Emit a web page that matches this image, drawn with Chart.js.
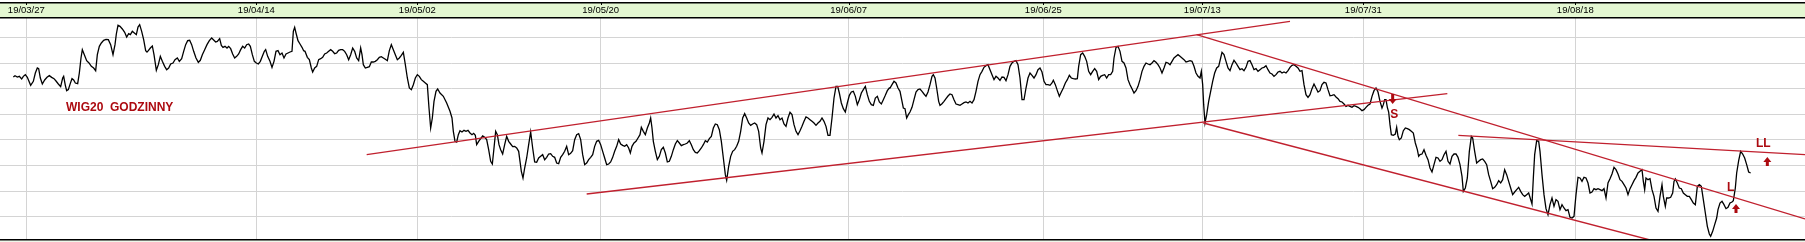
<!DOCTYPE html>
<html>
<head>
<meta charset="utf-8">
<script src="https://cdn.jsdelivr.net/npm/chart.js@4/dist/chart.umd.min.js"></script>
<style>
  html, body { margin: 0; padding: 0; background: #fff; }
</style>
</head>
<body>
<canvas id="myChart" width="1805" height="242"></canvas>
<script>
// time step of each reading (1 step = 1/3 px of the original picture)
const step = [
  40,45,52,58,65,70,76,82,92,100,106,112,116,121,127,134,141,148,155,162,168,175,182,188,191,196,200,205,211,216,
  221,226,233,238,243,247,253,260,267,274,281,287,292,298,304,311,318,325,332,339,345,349,354,360,367,374,380,386,391,397,
  403,409,414,419,425,431,437,441,445,451,457,462,469,475,481,487,494,500,506,512,519,525,532,538,545,551,557,563,569,575,
  581,588,595,601,607,614,621,628,635,641,647,652,659,664,669,675,681,686,692,698,704,710,716,722,728,734,740,746,751,757,
  763,769,775,781,787,793,797,803,810,816,822,828,834,840,846,852,858,864,870,876,880,884,888,894,900,906,911,915,922,928,
  934,938,944,950,956,962,968,974,980,986,992,998,1004,1010,1016,1022,1028,1034,1040,1046,1052,1058,1064,1070,1076,1082,1086,1090,1096,1102,
  1108,1114,1120,1126,1132,1138,1144,1150,1156,1162,1168,1174,1180,1186,1192,1198,1204,1210,1216,1222,1228,1234,1240,1246,1252,1258,1264,1270,1276,1282,
  1287,1292,1297,1302,1308,1313,
  1320,1330,1340,1350,1356,1360,1365,1370,1375,1380,1386,1392,1398,1404,1410,1416,1421,1426,1430,1436,
  1442,1448,1454,1460,1466,1472,1477,1482,1487,1492,1497,1502,1508,1514,1520,1526,1532,1538,1544,1550,
  1556,1560,1564,1569,1574,1580,1586,1592,1598,1604,1610,1616,1622,1628,1634,1640,1646,1652,1658,1664,
  1670,1676,1682,1688,1694,1700,1706,1712,1718,1724,1730,1736,1742,1748,1754,1760,1766,1772,1778,1784,
  1790,1796,1802,1808,1814,1820,1826,1832,1838,1844,1850,1856,1862,1868,1874,1880,1886,1891,1896,1902,
  1908,1914,1920,1924,1930,1936,1942,1948,1952,1956,1960,1966,1972,1978,1984,1990,1996,2002,2008,2014,
  2020,2026,2032,2038,2044,2050,2056,2062,2068,2074,2080,2086,2092,2098,2104,2110,2116,2122,2128,2134,
  2140,2146,2152,2158,2164,2170,2176,2180,2186,2192,2198,2204,2210,2216,2222,2228,2234,2240,2246,2252,
  2258,2264,2270,2276,2282,2286,2292,2298,2304,2310,2316,2322,2328,2334,2340,2346,2352,2358,2364,2370,
  2376,2382,2388,2394,2400,2406,2412,2418,2424,2430,2436,2442,2448,2454,2460,2466,2472,2478,2484,2490,
  2496,2502,2508,2513,2518,2524,2530,2536,2542,2548,2554,2560,2566,2572,2578,2584,2590,2596,2602,2608,
  2614,2620,2626,2632,2638,2644,2650,2656,2662,2668,
  2670,2676,2682,2688,2694,2700,2705,2710,2715,2720,2725,2730,2736,2742,2748,2754,2760,2766,2772,2778,
  2784,2790,2796,2800,2805,2810,2816,2820,2826,2832,2838,2844,2850,2856,2862,2868,2874,2880,2886,2892,
  2898,2904,2910,2916,2922,2928,2934,2940,2946,2952,2958,2964,2970,2976,2982,2988,2994,3000,3006,3012,
  3018,3024,3030,3036,3042,3048,3054,3060,3066,3072,3078,3084,3090,3096,3102,3108,3114,3120,3126,3132,
  3138,3144,3150,3156,3160,3166,3172,3178,3184,3190,3196,3202,3208,3214,3220,3226,3232,3236,3242,3248,
  3254,3260,3266,3272,3278,3284,3290,3296,3302,3308,3314,3320,3326,3332,3338,3342,3348,3354,3360,3366,
  3372,3378,3384,3390,3396,3402,3408,3414,3420,3426,3432,3438,3444,3450,3456,3462,3468,3474,3480,3486,
  3492,3498,3504,3510,3516,3522,3528,3534,3540,3546,3552,3558,3564,3570,3576,3582,3588,3594,3600,3604,
  3608,3611,3615,3620,3626,3632,3638,3644,3650,3656,3662,3666,3672,3678,3684,3690,3696,3702,3708,3714,
  3720,3726,3732,3738,3744,3750,3756,3762,3768,3774,3780,3786,3792,3798,3804,3810,3816,3822,3828,3834,
  3840,3846,3852,3858,3864,3870,3876,3882,3888,3894,3900,3906,3912,3918,3924,3930,3936,3942,3948,3954,
  3960,3966,3972,3978,3984,3990,3996,4002,4008,4014,
  4020,4026,4032,4038,4044,4050,4056,4062,4068,4074,4080,4086,4092,4098,4104,4110,4116,4122,4128,4134,
  4140,4146,4150,4154,4158,4162,4166,4170,4174,4180,4186,4190,4194,4198,4204,4210,4216,4222,4228,4234,
  4240,4246,4252,4256,4260,4266,4272,4278,4284,4290,4296,4302,4308,4314,4320,4326,4332,4338,4344,4350,
  4356,4362,4368,4374,4380,4386,4390,4396,4402,4408,4414,4418,4424,4430,4436,4442,4448,4454,4460,4466,
  4472,4478,4484,4490,4496,4502,4508,4514,4520,4526,4532,4538,4544,4550,4556,4562,4568,4574,4580,4586,
  4592,4596,4600,4604,4610,4616,4620,4626,4632,4638,4644,4650,4656,4662,4668,4674,4680,4686,4692,4698,
  4704,4710,4716,4722,4728,4734,4740,4746,4752,4758,4764,4770,4776,4782,4788,4794,4800,4806,4812,4818,
  4824,4830,4836,4842,4848,4854,4860,4866,4872,4878,4884,4890,4896,4902,4908,4914,4920,4926,4930,4934,
  4938,4944,4950,4956,4962,4968,4974,4980,4986,4990,4996,5000,5006,5012,5018,5022,5026,5032,5038,5044,
  5050,5056,5062,5068,5074,5080,5086,5092,5098,5104,5110,5116,5122,5128,5132,5138,5144,5150,5154,5160,
  5166,5172,5178,5184,5190,5196,5200,5206,5210,5216,5222,5228,5234,5240,5246,5252
];

// WIG20 hourly level
const wig20 = [
  2384.5,2386.5,2384.5,2385.5,2381.5,2385.5,2388,2384,2372,2378,2390.5,2398,2397,2383,2374,2380,2384,2386.5,2384,2382,
  2378.5,2374,2370,2383,2385.5,2372,2364,2365.5,2375,2382,2380,2375.5,2374.5,2390.5,2413,2425.5,2418,2409,2405.5,2400.5,
  2398,2394,2418,2430.5,2435.5,2439.5,2441,2440.5,2433,2418,2433,2449,2462,2460.5,2456.5,2451.5,2444.5,2449.5,2448,2453,
  2450.5,2448,2459.5,2463,2453,2440.5,2424,2422,2424,2428,2431,2418,2394.5,2403,2415.5,2408,2400.5,2395.5,2398,2404,
  2405.5,2410.5,2413,2408,2412,2423,2433,2439,2439.5,2433,2423,2413,2406.5,2409.5,2418,2425.5,2433,2439,2443,2440,
  2437,2438,2442,2432,2429,2430.5,2428,2430.5,2427,2419,2413,2415.5,2419,2425.5,2430.5,2428,2433,2434,2430.5,2418,
  2408,2405.5,2404,2408,2415.5,2423,2425.5,2415.5,2408,2399,2408,2423,2424,2418,2420.5,2413,2419,2420.5,2422,2423,
  2453,2459,2450.5,2439,2434,2429,2424,2423,2414,2410.5,2398,2392,2398,2400.5,2410.5,2412,2414,2419,2420.5,2423,
  2425.5,2423,2419.5,2420.5,2424.5,2425.5,2425.5,2423,2418,2410.5,2418,2428,2423,2413,2409,2428,2418,2403,2398,2399,
  2400,2407,2407,2408,2410.5,2414,2415,2413,2411,2409,2424,2433,2425.5,2418,2410.5,2413,2417,2421.5,2403,2383,
  2368,2365.5,2373,2383,2388,2385.5,2380.5,2378,2375.5,2373,2338,2308,2323,2348,2363,2366.5,
  2360.5,2355.5,2345.5,2333,2323,2303,2288,2287,2298,2304,2302,2304.5,2303,2304.5,2300.5,2298,2300,2297,2283,2288,
  2292,2296,2294,2290.5,2275.5,2258,2254,2278,2303,2298,2283,2275.5,2269,2283,2295.5,2288,2284,2280,2280.5,2278,
  2273,2258,2243,2233,2248,2263,2283,2302,2278,2257,2256.5,2263,2265.5,2268,2260.5,2264,2269,2269.5,2265.5,2264,
  2255.5,2254.5,2264,2268,2273,2280.5,2268,2270,2274,2290.5,2298,2299.5,2290.5,2268,2253,2255.5,2260.5,2264,2268,2280.5,
  2288,2289.5,2283,2273,2263,2253,2254,2257,2264,2273,2280.5,2290.5,2284,2282,2280.5,2283,2278,2270.5,2280.5,2285.5,
  2288,2293,2298,2309,2303,2298,2308,2315.5,2323,2308,2288,2273,2260.5,2265.5,2275.5,2279,2270.5,2257,2258,2265.5,
  2275.5,2284,2289,2285.5,2281.5,2283,2284,2285.5,2289,2283,2275.5,2271.5,2270.5,2274,2278,2283,2289,2287,2292,2295.5,
  2308,2314,2313,2305.5,2288,2263,2238,2229.5,2250.5,2265.5,2273,2275.5,2280.5,2288,2303,2323,2329.5,2323,2315.5,2312,
  2314,2315.5,2313,2303,2278,2270.5,2288,2313,2323,2320.5,2324,2329,2323,2326.5,2320.5,2323,2314,2310.5,2323,2331.5,
  2328,2313,2303,2298,2304,2310.5,2318,2324.5,2323,2320.5,2318,2315.5,2312,2315.5,2318,2323,2318,2310.5,2297,2297,
  2323,2353,2370.5,2370.5,2360.5,2345.5,2337,2332,2345.5,2357,2362,2363,2355.5,2343,2350.5,2360.5,2365.5,2370.5,2358,2348,
  2343,2342,2353,2355.5,2347,2344,2350.5,2357,2364,2368,
  2368,2373,2378,2375.5,2368,2363,2350.5,2338,2337,2323,2328,2332,2339,2350.5,2362,2365.5,2366.5,2363,2359,2355.5,
  2362,2373,2385.5,2388,2383,2368,2348,2342,2344.5,2348,2352,2356,2359,2358,2350.5,2344,2343,2342,2344,2346,
  2347,2345.5,2348,2345.5,2350.5,2363,2378,2388,2393,2399,2401.5,2403,2395.5,2388,2380.5,2385.5,2383,2379.5,2384.5,2384,
  2379,2388,2400.5,2405.5,2408,2409,2403,2383,2350.5,2350.5,2368,2383,2390.5,2387,2383,2388,2395.5,2398,2392,2378,
  2373,2373,2372,2375.5,2379.5,2373,2364,2355.5,2362,2368,2375.5,2380.5,2387,2383,2382,2381.5,2382,2400.5,2418,2420.5,
  2415.5,2408,2393,2388,2393,2397,2393,2380.5,2385.5,2387,2388,2383,2388,2388,2393,2413,2429,2430.5,2423,2408,
  2405.5,2398,2380.5,2373,2367,2360.5,2364,2370.5,2380.5,2393,2400.5,2405.5,2404,2403,2405.5,2409,2406.5,2403,2398,2390.5,
  2398,2406.5,2405.5,2403,2408,2413,2415.5,2418,2415.5,2413,2410.5,2407,2408,2409,2408,2400.5,2390.5,2385.5,2383,2393,
  2373,2343,2315.5,2328,2348,2363,2378,2390.5,2398,2400.5,2413,2421.5,2418,2408,2398,2394,2403,2409.5,2405.5,2400.5,
  2395.5,2397,2394,2399,2408,2409,2403,2395.5,2397,2393,2395.5,2398,2399,2401.5,2395.5,2390.5,2389,2385.5,2388,2392,
  2393,2390.5,2392,2390.5,2394,2399,2402,2403,2400.5,2398,2393,2394,2373,2358,2354,2358,2367,2374,2368,2362,
  2364,2373,2376.5,2375.5,2365.5,2356.5,2357,2358,2354.5,2352,
  2348,2347,2344,2340.5,2342,2340.5,2339,2341.5,2340.5,2339,2337,2334,2335.5,2339,2342,2344,2355.5,2364,2368,2362,
  2348,2338,2343,2350.5,2350.5,2339,2332,2313,2298,2297,2299,2309,2295.5,2290.5,2293,2304,2308,2307,2305.5,2303,
  2300.5,2285.5,2275.5,2265.5,2268,2269,2275.5,2267,2260.5,2248,2242,2253,2264,2263,2258,2260.5,2268,2273,2258,2254,
  2265.5,2269,2269,2264,2253,2235.5,2213,2218,2233,2273,2295.5,2293,2273,2255.5,2258,2260.5,2261.5,2258,2253,2238,
  2228,2217,2219,2223,2229,2225.5,2230.5,2245.5,2238,2228,2218,2208,2212,2215.5,2219,2213,2208,2205.5,2208,2210.5,
  2200.5,2194,2233,2268,2289,2288,2273,2238,2208,2187,2178,2193,2203,2190.5,2200.5,2198,2185.5,2193,2188,2184,
  2185.5,2174,2173,2175.5,2208,2234,2233,2228,2234,2233,2225.5,2210.5,2212,2217,2215.5,2217,2215.5,2214,2217,2203,
  2225.5,2232,2239,2249,2245.5,2239,2230.5,2228,2223,2218,2208,2217,2223,2229,2234,2240.5,2243,2245.5,2228,2215.5,
  2233,2230.5,2232,2215.5,2205.5,2188,2183,2205.5,2223,2205.5,2190.5,2203,2203,2204,2210.5,2228,2231.5,2225.5,2218,2217,
  2210.5,2208,2205.5,2205.5,2200.5,2195.5,2193,2220.5,2223,2220.5,2200.5,2180.5,2160.5,2149,2145.5,2153,2163,2173,2185.5,2195.5,
  2198,2193,2187,2189,2195.5,2197,2199,2218,2240.5,2259,2273,2269,2263,2253,2242,2240.5
];

// date labels on the top band and the step they sit at
const dateLabels = ["19/03/27", "19/04/14", "19/05/02", "19/05/20", "19/06/07", "19/06/25", "19/07/13", "19/07/31", "19/08/18"];
const dateTicks = [79, 769, 1252, 1802, 2546, 3130, 3607, 4090, 4726];

// horizontal grid levels
const levels = [2444.5, 2405.5, 2367.5, 2329, 2291, 2252.5, 2213.5, 2175.5];

// trend lines drawn by hand on the chart
const channelTop = [{ x: 1100, y: 2268 }, { x: 3870, y: 2468 }];
const channelBottom = [{ x: 1760, y: 2209 }, { x: 4342, y: 2359.5 }];
const downTop = [{ x: 3590, y: 2448 }, { x: 5415, y: 2171.5 }];
const downBottom = [{ x: 3610, y: 2315.5 }, { x: 4950, y: 2140 }];
const resistance = [{ x: 4375, y: 2297 }, { x: 5415, y: 2268 }];

// signal marks: text, and arrows (tail level -> head level)
const signalText = ["S", "L", "LL"];
const signalStep = [4183, 5192, 5290];
const signalLevel = [2328, 2219, 2284];
const arrowStep = [4178, 5208, 5302];
const arrowFrom = [2359, 2180.5, 2251];
const arrowTo = [2344, 2194, 2264.5];

const title = "WIG20  GODZINNY";
const titleStep = 198;
const titleLevel = 2338;

const red = "#c0202e";
const darkRed = "#ac0a10";

const decor = {
  id: "decor",
  beforeDraw(chart) {
    const ctx = chart.ctx;
    ctx.save();
    ctx.fillStyle = "#ffffff";
    ctx.fillRect(0, 0, chart.width, chart.height);
    ctx.fillStyle = "#e4f7d2";
    ctx.fillRect(0, 3, chart.width, 15);
    ctx.fillStyle = "#eef7ea";
    ctx.fillRect(0, 240, chart.width, 2);
    ctx.restore();
  },
  afterDatasetsDraw(chart) {
    const ctx = chart.ctx;
    const x = chart.scales.x;
    const y = chart.scales.y;
    ctx.save();
    ctx.fillStyle = darkRed;
    ctx.font = "bold 12px 'Liberation Sans', Arial, sans-serif";
    ctx.textBaseline = "middle";
    ctx.textAlign = "left";
    ctx.fillText(title, x.getPixelForValue(titleStep), y.getPixelForValue(titleLevel));
    ctx.textAlign = "center";
    signalText.forEach((t, i) => {
      ctx.fillText(t, x.getPixelForValue(signalStep[i]), y.getPixelForValue(signalLevel[i]));
    });
    // block arrows
    arrowStep.forEach((s, i) => {
      const cx = x.getPixelForValue(s);
      const y0 = y.getPixelForValue(arrowFrom[i]);
      const y1 = y.getPixelForValue(arrowTo[i]);
      const dir = y1 > y0 ? 1 : -1;
      const headLen = 5;
      const yb = y1 - dir * headLen;
      ctx.beginPath();
      ctx.moveTo(cx - 1.5, y0);
      ctx.lineTo(cx + 1.5, y0);
      ctx.lineTo(cx + 1.5, yb);
      ctx.lineTo(cx + 4, yb);
      ctx.lineTo(cx, y1);
      ctx.lineTo(cx - 4, yb);
      ctx.lineTo(cx - 1.5, yb);
      ctx.closePath();
      ctx.fill();
    });
    ctx.restore();
  },
  afterDraw(chart) {
    const ctx = chart.ctx;
    const x = chart.scales.x;
    ctx.save();
    ctx.fillStyle = "#000";
    ctx.fillRect(0, 2, chart.width, 1.5);
    ctx.fillRect(0, 17, chart.width, 1.5);
    ctx.fillRect(0, 239, chart.width, 1.5);
    dateTicks.forEach(t => {
      ctx.fillRect(Math.round(x.getPixelForValue(t)), 3, 1, 2);
    });
    ctx.restore();
  }
};

const lineStyle = { borderColor: red, borderWidth: 1.3, pointRadius: 0, tension: 0, order: 0 };

const config = {
  type: "line",
  data: {
    datasets: [
      {
        label: "WIG20",
        data: step.map((s, i) => ({ x: s, y: wig20[i] })),
        borderColor: "#000",
        borderWidth: 1.3,
        pointRadius: 0,
        tension: 0,
        order: 1,
      },
      { ...lineStyle, data: channelTop },
      { ...lineStyle, data: channelBottom },
      { ...lineStyle, data: downTop },
      { ...lineStyle, data: downBottom },
      { ...lineStyle, data: resistance },
    ],
  },
  options: {
    responsive: false,
    animation: false,
    layout: { padding: { left: 0, right: 0, top: 0, bottom: 2 } },
    plugins: { legend: { display: false }, tooltip: { enabled: false } },
    scales: {
      x: {
        type: "linear",
        position: "top",
        min: 0,
        max: 5415,
        afterBuildTicks: (s) => { s.ticks = dateTicks.map(v => ({ value: v })); },
        afterFit: (s) => { s.height = 18; },
        ticks: {
          callback: (v) => dateLabels[dateTicks.indexOf(v)],
          color: "#000",
          font: { family: "'Liberation Sans', Arial, sans-serif", size: 9.5 },
          padding: 2,
          maxRotation: 0,
          autoSkip: false,
        },
        grid: { color: "#d4d4d4", drawTicks: false },
        border: { display: false },
      },
      y: {
        min: 2140,
        max: 2473,
        afterBuildTicks: (s) => { s.ticks = levels.map(v => ({ value: v })); },
        afterFit: (s) => { s.width = 0; },
        ticks: { display: false },
        grid: { color: "#d4d4d4", drawTicks: false },
        border: { display: false },
      },
    },
  },
  plugins: [decor],
};

const wigChart = new Chart(document.getElementById("myChart"), config);
</script>
</body>
</html>
